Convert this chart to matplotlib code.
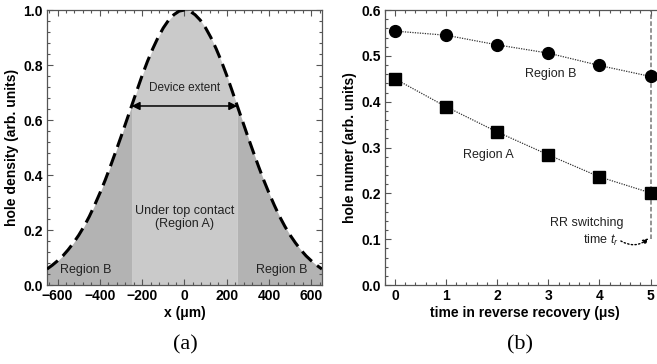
import matplotlib
matplotlib.use("Agg")
import matplotlib.pyplot as plt
from matplotlib.ticker import MultipleLocator, AutoMinorLocator
import numpy as np

plt.rcParams['font.family'] = ['Liberation Sans', 'DejaVu Sans']
plt.rcParams['mathtext.fontset'] = 'custom'
plt.rcParams['mathtext.it'] = 'Liberation Sans:italic'
plt.rcParams['mathtext.rm'] = 'Liberation Sans'

# ---- panel (a): hole density profile ----
x_um = [-650, -625, -600, -575, -550, -525, -500, -475, -450, -425, -400, -375, -350,
        -325, -300, -275, -250, -225, -200, -175, -150, -125, -100, -75, -50, -25, 0,
        25, 50, 75, 100, 125, 150, 175, 200, 225, 250, 275, 300, 325, 350, 375, 400,
        425, 450, 475, 500, 525, 550, 575, 600, 625, 650]
density = [0.058, 0.072, 0.088, 0.106, 0.128, 0.153, 0.181, 0.213, 0.249, 0.290, 0.334,
           0.381, 0.432, 0.485, 0.539, 0.595, 0.651, 0.707, 0.762, 0.813, 0.859, 0.900,
           0.935, 0.963, 0.983, 0.996, 1.000, 0.996, 0.983, 0.963, 0.935, 0.900, 0.859,
           0.813, 0.762, 0.707, 0.651, 0.595, 0.539, 0.485, 0.432, 0.381, 0.334, 0.290,
           0.249, 0.213, 0.181, 0.153, 0.128, 0.106, 0.088, 0.072, 0.058]
device_edge = 250

# ---- panel (b): hole number vs time ----
t_us = [0, 1, 2, 3, 4, 5]
region_b = [0.554, 0.545, 0.524, 0.506, 0.479, 0.455]
region_a = [0.450, 0.389, 0.334, 0.284, 0.236, 0.201]
t_switch = 5

fig = plt.figure(figsize=(6.57, 3.64), dpi=100)
ax1 = fig.add_axes([0.0715, 0.217, 0.4185, 0.7555])
ax2 = fig.add_axes([0.5855, 0.217, 0.428, 0.7555])

xs = np.array(x_um)
ys = np.array(density)
ax1.fill_between(xs, 0, ys, where=np.abs(xs) <= device_edge, color='#cacaca', lw=0, zorder=1)
ax1.fill_between(xs, 0, ys, where=xs <= -device_edge, color='#b3b3b3', lw=0, zorder=1)
ax1.fill_between(xs, 0, ys, where=xs >= device_edge, color='#b3b3b3', lw=0, zorder=1)
ax1.plot(xs, ys, color='black', lw=2.2, dashes=(4.5, 2.2), zorder=3)

ax1.annotate('', xy=(-device_edge, 0.651), xytext=(device_edge, 0.651),
             arrowprops=dict(arrowstyle='<|-|>', color='black', lw=1.1,
                             mutation_scale=12, shrinkA=0, shrinkB=0), zorder=4)
ax1.text(0, 0.715, 'Device extent', ha='center', va='center', fontsize=8.5, color='#222222')
ax1.text(0, 0.245, 'Under top contact\n(Region A)', ha='center', va='center',
         fontsize=9, color='#222222', linespacing=1.15)
ax1.text(-465, 0.055, 'Region B', ha='center', va='center', fontsize=9, color='#222222')
ax1.text(460, 0.055, 'Region B', ha='center', va='center', fontsize=9, color='#222222')

ax1.set_xlim(-650, 650)
ax1.set_ylim(0, 1.0)
ax1.xaxis.set_major_locator(MultipleLocator(200))
ax1.yaxis.set_major_locator(MultipleLocator(0.2))
ax1.set_xlabel('x (μm)', fontsize=10, fontweight='bold', labelpad=2)
ax1.set_ylabel('hole density (arb. units)', fontsize=10, fontweight='bold', labelpad=3)

# panel (b)
ax2.plot(t_us, region_b, color='#333333', lw=0.9, ls=(0, (1, 1)), marker='o',
         ms=8.5, mfc='black', mec='black', zorder=3)
ax2.plot(t_us, region_a, color='#333333', lw=0.9, ls=(0, (1, 1)), marker='s',
         ms=8, mfc='black', mec='black', zorder=3)
ax2.plot([t_switch, t_switch], [0.1, 0.6], color='#777777', lw=1.1, ls=(0, (3, 1.5)), zorder=2)
ax2.annotate('', xy=(4.96, 0.102), xytext=(4.42, 0.096),
             arrowprops=dict(arrowstyle='-|>', color='black', lw=1.0, ls=':',
                             connectionstyle='arc3,rad=0.35', mutation_scale=8,
                             shrinkA=0, shrinkB=0))
ax2.text(3.04, 0.46, 'Region B', ha='center', va='center', fontsize=9, color='#222222')
ax2.text(1.83, 0.284, 'Region A', ha='center', va='center', fontsize=9, color='#222222')
ax2.text(3.76, 0.136, 'RR switching', ha='center', va='center', fontsize=9, color='#222222')
ax2.text(4.02, 0.097, 'time $t_r$', ha='center', va='center', fontsize=9, color='#222222')

ax2.set_xlim(-0.2, 5.3)
ax2.set_ylim(0, 0.6)
ax2.xaxis.set_major_locator(MultipleLocator(1))
ax2.yaxis.set_major_locator(MultipleLocator(0.1))
ax2.set_xlabel('time in reverse recovery (μs)', fontsize=10, fontweight='bold', labelpad=2)
ax2.set_ylabel('hole numer (arb. units)', fontsize=10, fontweight='bold', labelpad=3)

for ax in (ax1, ax2):
    ax.xaxis.set_minor_locator(AutoMinorLocator(5))
    ax.yaxis.set_minor_locator(AutoMinorLocator(5))
    ax.tick_params(which='both', direction='in', top=True, right=True,
                   color='#555555', width=0.8)
    ax.tick_params(which='major', length=4, labelsize=10, pad=3)
    ax.tick_params(which='minor', length=2)
    for sp in ax.spines.values():
        sp.set_color('#555555')
        sp.set_linewidth(0.9)
ax1.set_yticklabels(['%.1f' % v for v in ax1.get_yticks()], fontweight='bold')
ax1.set_xticklabels(['%d' % v if v >= 0 else '\u2212%d' % -v for v in ax1.get_xticks()],
                    fontweight='bold')
ax2.set_yticklabels(['%.1f' % v for v in ax2.get_yticks()], fontweight='bold')
ax2.set_xticklabels(['%d' % v for v in ax2.get_xticks()], fontweight='bold')

fig.text(185 / 657, 1 - 345 / 364, '(a)', ha='center', va='center', fontsize=16,
         family='Liberation Serif')
fig.text(520 / 657, 1 - 345 / 364, '(b)', ha='center', va='center', fontsize=16,
         family='Liberation Serif')

fig.savefig('out.png', dpi=100)
